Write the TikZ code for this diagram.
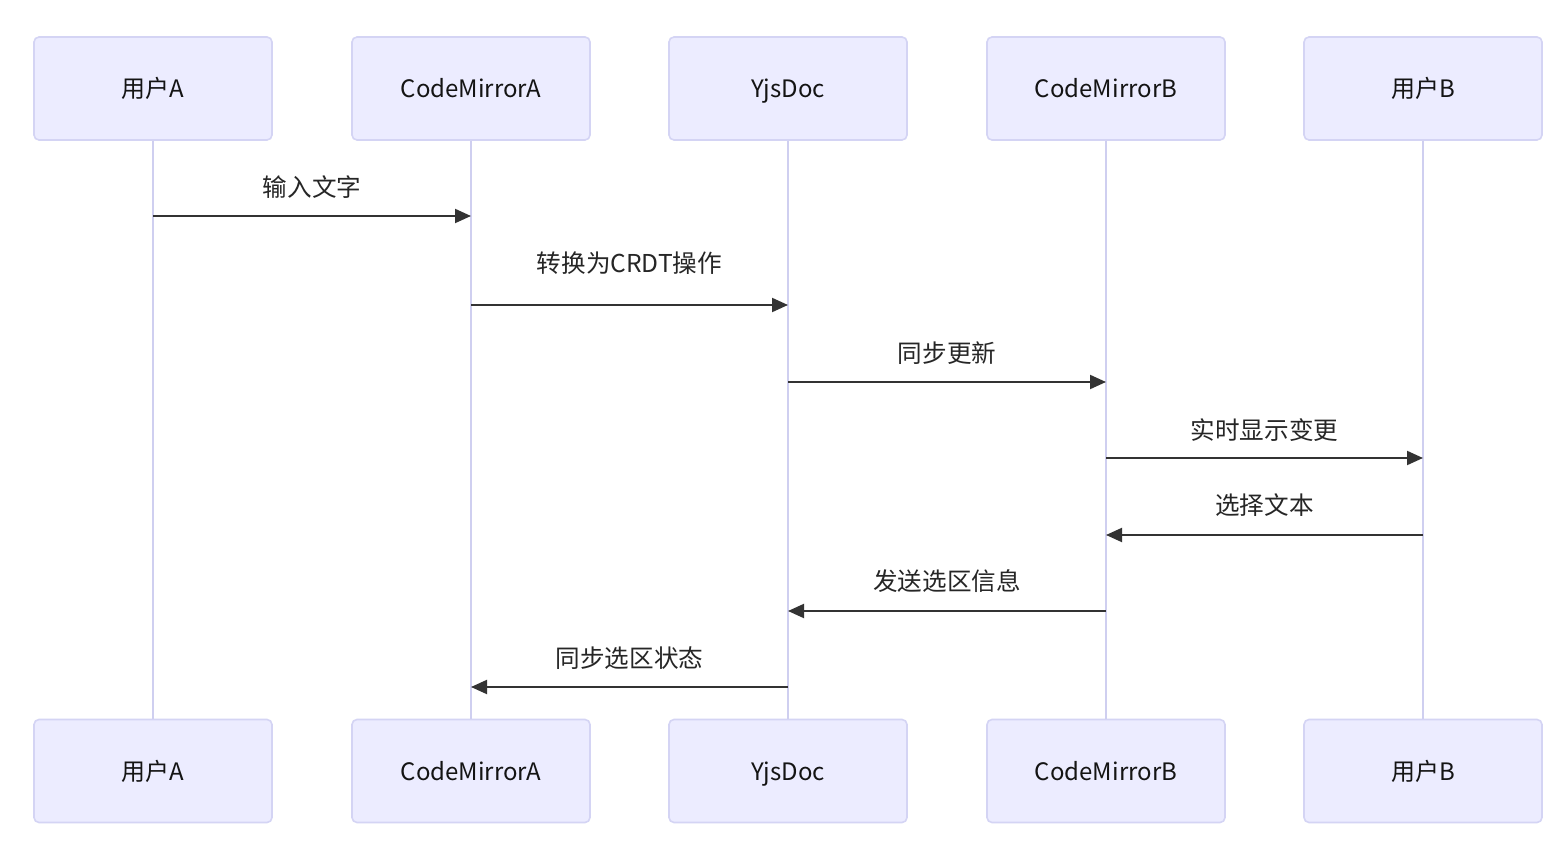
\documentclass[tikz,border=0pt]{standalone}
\usepackage{fontspec}
\setmainfont{Noto Sans CJK SC}
\usetikzlibrary{arrows.meta,calc}
\definecolor{actfill}{HTML}{ECECFF}
\definecolor{actdraw}{HTML}{D4D4F4}
\definecolor{lifeline}{HTML}{CFCFF0}
\definecolor{msg}{HTML}{333333}
\tikzset{
  actor/.style={draw=actdraw, fill=actfill, line width=0.8pt, rounded corners=2.5pt,
    minimum width=119pt, minimum height=51.5pt, inner sep=0pt,
    text height=12pt, text depth=2.5pt,
    font=\fontsize{12pt}{14pt}\selectfont, text=black!92},
  life/.style={draw=lifeline, line width=1pt},
  message/.style={draw=msg, line width=1pt, -{Triangle[length=8pt,width=7pt]}},
  mlabel/.style={font=\fontsize{12.3pt}{14pt}\selectfont, text=black!85, inner sep=0pt}
}
\begin{document}
\begin{tikzpicture}[x=0.5pt,y=-0.5pt]
\path[fill=white] (0,0) rectangle (1568,844);
\useasboundingbox (0,0) rectangle (1568,844);
\foreach \n/\x/\t in {ua/153/用户A, cma/471/CodeMirrorA, yd/788/YjsDoc, cmb/1106/CodeMirrorB, ub/1423/用户B}{
  \node[actor] (\n t) at (\x,88.5) {\t};
  \node[actor] (\n b) at (\x,771) {\t};
  \draw[life] (\n t.south) -- (\n b.north);
}
% messages
\foreach \s/\d/\y/\ly/\t [count=\i] in {ua/cma/216/187/输入文字, cma/yd/305/263/转换为CRDT操作, yd/cmb/382/353/同步更新, cmb/ub/458/430/实时显示变更, ub/cmb/535/505/选择文本, cmb/yd/611/581/发送选区信息, yd/cma/687/658/同步选区状态}{
  \coordinate (s\i) at (\s t.south |- 0,\y);
  \coordinate (d\i) at (\d t.south |- 0,\y);
  \draw[message] (s\i) -- (d\i);
  \node[mlabel] (l\i) at ($(s\i)!0.5!(d\i)+(0,\ly-\y)$) {\t};
}
\end{tikzpicture}
\end{document}
